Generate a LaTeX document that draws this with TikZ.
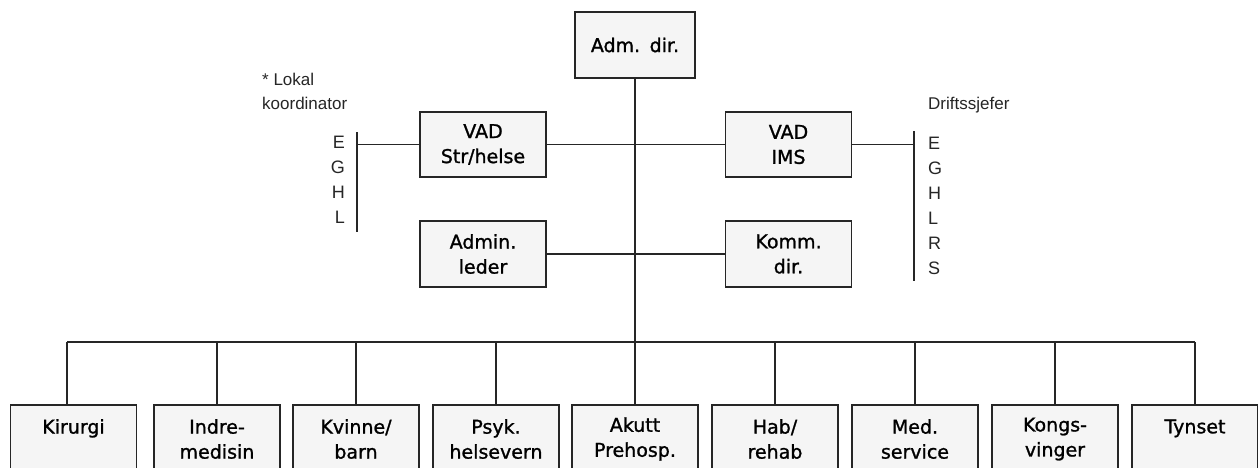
\documentclass[tikz,border=0pt]{standalone}
\usepackage{fontspec}
\setmainfont[FakeBold=1.2]{DejaVu Sans}
\newfontfamily\labfont{Liberation Sans}
\begin{document}
\begin{tikzpicture}[x=1pt,y=-1pt,
  line/.style={draw=black!85, line width=1.2pt},
  box/.style={line, fill=black!4, inner sep=0pt, align=center, text width=126pt,
    minimum width=126pt, font=\fontsize{19}{25}\selectfont},
  topbox/.style={box, minimum height=65pt},
  botbox/.style={box, minimum height=68pt},
  lab/.style={font=\labfont\fontsize{17}{20}\selectfont, inner sep=0pt, text=black!85},
  lett/.style={lab, font=\labfont\fontsize{18}{20}\selectfont}
]
\clip (0,0) rectangle (1258,467);
\fill[white] (0,0) rectangle (1258,467);

% top boxes
\node[box, text width=120pt, minimum width=120pt, minimum height=66pt] (adm) at (635,45) {Adm. dir.};
\node[topbox] (vads) at (483,144.5) {VAD\\Str/helse};
\node[topbox, minimum height=66pt] (admin) at (483,254) {Admin.\\leder};
\node[topbox] (vadi) at (788.5,144.5) {VAD\\IMS};
\node[topbox, minimum height=66pt] (komm) at (788.5,254) {Komm.\\dir.};

% bottom boxes
\node[botbox] (kir) at (73.5,439) {Kirurgi\\\vphantom{medisin}};
\node[botbox] (ind) at (217,439) {Indre-\\medisin};
\node[botbox] (kvi) at (356,439) {Kvinne/\\barn};
\node[botbox] (psy) at (496,439) {Psyk.\\helsevern};
\node[botbox] (aku) at (635,439) {Akutt\\Prehosp.};
\node[botbox] (hab) at (775,439) {Hab/\\rehab};
\node[botbox] (med) at (915,439) {Med.\\service};
\node[botbox] (kon) at (1055,439) {Kongs-\\vinger};
\node[botbox] (tyn) at (1195,439) {Tynset\\\vphantom{medisin}};

% bus
\coordinate (busM) at (635,342);
\coordinate (busL) at (67,342);
\coordinate (busR) at (1195,342);
\draw[line] (adm.south) -- (busM);
\draw[line] (busL) -- (busR);
\draw[line] ([xshift=-6.5pt]kir.north) -- (busL);
\foreach \n in {ind,kvi,psy,aku,hab,med,kon,tyn}
  \draw[line] (\n.north) -- (\n.north |- busM);

% side connectors
\draw[line] (vads.east) -- (vadi.west);
\draw[line] (admin.east) -- (komm.west);

% left bracket
\coordinate (lbT) at (357,132);
\coordinate (lbB) at (357,232);
\draw[line] (lbT) -- (lbB);
\draw[line] (vads.west) -- (vads.west -| lbT);

% right bracket
\coordinate (rbT) at (914,131);
\coordinate (rbB) at (914,281);
\draw[line] (rbT) -- (rbB);
\draw[line] (vadi.east) -- (vadi.east -| rbT);

% labels
\node[lab, anchor=base west] (lok1) at (262,85) {* Lokal};
\node[lab, anchor=base west] (lok2) at (262,109) {koordinator};
\node[lab, anchor=base west] (drift) at (928,109) {Driftssjefer};

\foreach \t [count=\i from 0] in {E,G,H,L}
  \node[lett, anchor=base east] (ll\i) at (345,148+25*\i) {\t};
\foreach \t [count=\i from 0] in {E,G,H,L,R,S}
  \node[lett, anchor=base west] (rl\i) at (928,149+25*\i) {\t};
\end{tikzpicture}
\end{document}
